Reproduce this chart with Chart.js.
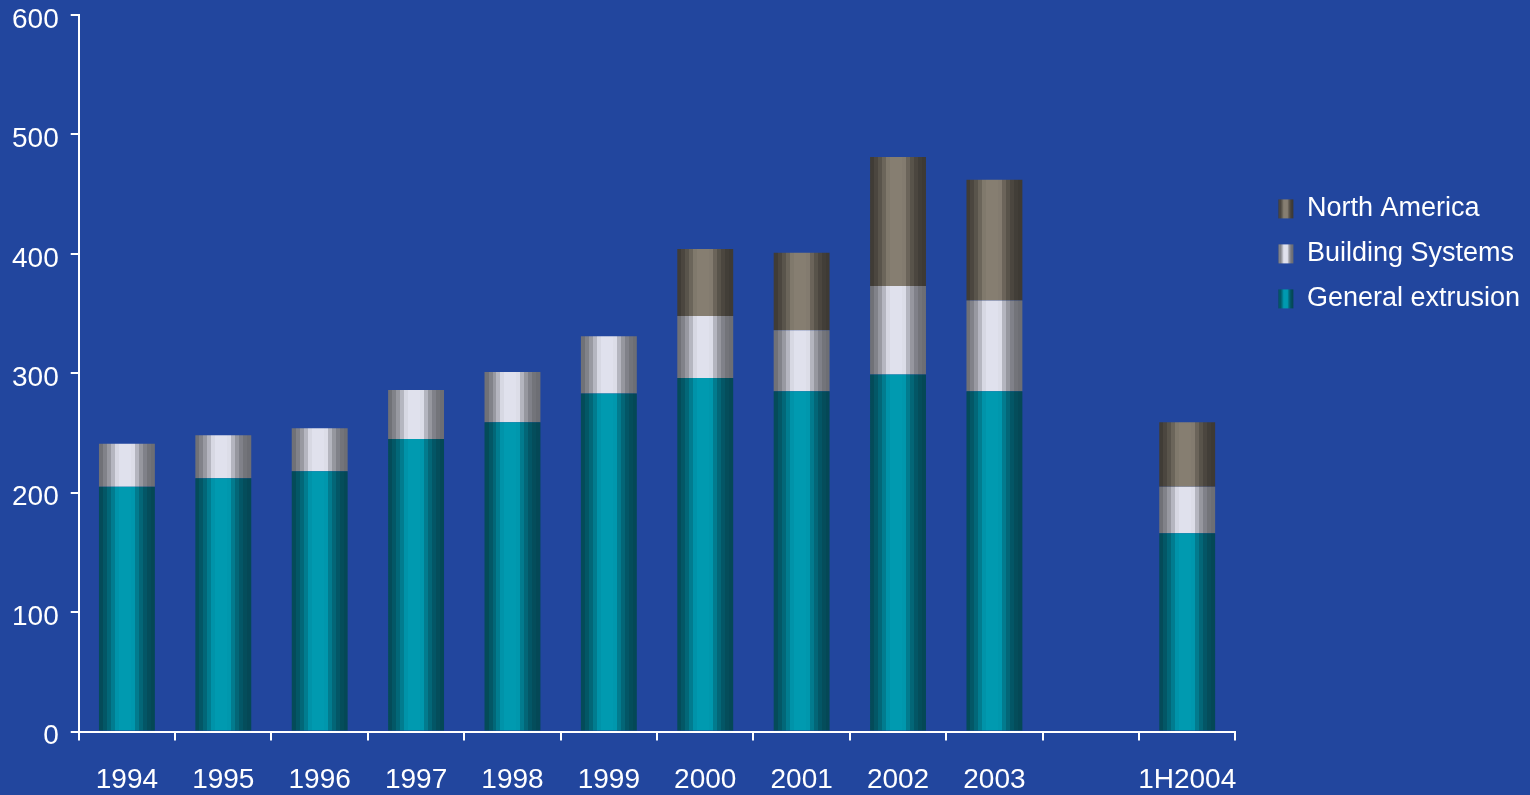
<!DOCTYPE html>
<html>
<head>
<meta charset="utf-8">
<title>Extrusion volumes</title>
<script src="https://cdn.jsdelivr.net/npm/chart.js@4.4.1/dist/chart.umd.min.js"></script>
<style>
  html, body { margin: 0; padding: 0; background: #22469e; }
  canvas { display: block; }
</style>
</head>
<body>
<canvas id="grafico" width="1530" height="795"></canvas>
<script>
// categories, with an empty slot before the half-year bar
const years = ['1994', '1995', '1996', '1997', '1998', '1999', '2000', '2001', '2002', '2003', '', '1H2004'];
const generalExtrusion = [205, 212, 218, 245, 259, 283, 296, 285, 299, 285, null, 166];
const buildingSystems = [36, 36, 36, 41, 42, 48, 52, 51, 74, 76, null, 39];
const northAmerica = [null, null, null, null, null, null, 56, 65, 108, 101, null, 54];
const yTicks = [0, 100, 200, 300, 400, 500, 600];

const FONT = "'Liberation Sans', Arial, sans-serif";
const barShare = 0.58;

// dark edge / bright centre of each "cylinder"
const tones = [
  { dark: [4, 72, 86], light: [0, 154, 176] },       // general extrusion
  { dark: [108, 109, 115], light: [224, 225, 237] }, // building systems
  { dark: [62, 58, 52], light: [134, 126, 113] }     // north america
];

// stepped horizontal shading, like the old office-chart cylinders
function bandStops(g, tone) {
  const n = 14;
  for (let i = 0; i < n; i++) {
    const t = (i + 0.5) / n;
    let f;
    if (t < 0.34) f = Math.pow(t / 0.34, 1.5);
    else if (t < 0.6) f = 1;
    else f = Math.pow((1 - t) / 0.4, 2.15);
    const c = tone.dark.map((d, k) => Math.round(d + (tone.light[k] - d) * f));
    const col = 'rgb(' + c.join(',') + ')';
    g.addColorStop(i / n, col);
    g.addColorStop((i + 1) / n, col);
  }
  return g;
}

function barFill(tone) {
  return function (ctx) {
    const chart = ctx.chart;
    const x = chart.scales.x;
    const flat = 'rgb(' + tone.light.join(',') + ')';
    if (!x || ctx.type !== 'data') return flat;
    const cx = x.getPixelForValue(ctx.dataIndex);
    const w = x.width / years.length * barShare;
    if (!isFinite(cx) || !isFinite(w) || w <= 0) return flat;
    return bandStops(chart.ctx.createLinearGradient(cx - w / 2, 0, cx + w / 2, 0), tone);
  };
}

// paint the legend boxes with the same shading
const legendBoxes = {
  id: 'legendBoxes',
  afterDraw(chart) {
    const lg = chart.legend;
    if (!lg || !lg.legendHitBoxes) return;
    const lo = lg.options.labels;
    const bw = lo.boxWidth, bh = lo.boxHeight, fs = lo.font.size;
    const c = chart.ctx;
    c.save();
    lg.legendItems.forEach((item, i) => {
      const hb = lg.legendHitBoxes[i];
      const top = hb.top + Math.max((fs - bh) / 2, 0);
      c.fillStyle = bandStops(c.createLinearGradient(hb.left, 0, hb.left + bw, 0), tones[item.datasetIndex]);
      c.fillRect(hb.left, top, bw, bh);
    });
    c.restore();
  }
};

const chartData = {
  labels: years,
  datasets: [
    { label: 'General extrusion', data: generalExtrusion, backgroundColor: barFill(tones[0]) },
    { label: 'Building Systems', data: buildingSystems, backgroundColor: barFill(tones[1]) },
    { label: 'North America', data: northAmerica, backgroundColor: barFill(tones[2]) }
  ]
};

const options = {
  responsive: false,
  animation: false,
  devicePixelRatio: 1,
  layout: { padding: { left: 0, right: 0, top: 0, bottom: 0 } },
  datasets: { bar: { borderWidth: 0, barPercentage: barShare, categoryPercentage: 1 } },
  scales: {
    x: {
      stacked: true,
      grid: { offset: true, drawOnChartArea: false, color: '#ffffff', lineWidth: 2, tickLength: 9 },
      border: { color: '#ffffff', width: 2 },
      ticks: { color: '#ffffff', font: { family: FONT, size: 28, lineHeight: 1.1 }, padding: 24, maxRotation: 0, autoSkip: false },
      afterFit: s => { s.height = 63.5; }
    },
    y: {
      stacked: true,
      min: 0,
      max: 600,
      afterBuildTicks: s => { s.ticks = yTicks.map(v => ({ value: v })); },
      grid: { drawOnChartArea: false, color: '#ffffff', lineWidth: 2, tickLength: 8 },
      border: { color: '#ffffff', width: 2 },
      ticks: { color: '#ffffff', font: { family: FONT, size: 28, lineHeight: 1.1 }, padding: 12, labelOffset: 5 },
      afterFit: s => { s.paddingTop = 15; s.paddingBottom = 0; }
    },
    // empty strip between the plot and the legend
    yGap: {
      axis: 'y',
      type: 'linear',
      position: 'right',
      grid: { display: false },
      border: { display: false },
      ticks: { display: false },
      afterFit: s => { s.width = 25; }
    }
  },
  plugins: {
    tooltip: { enabled: false },
    legend: {
      position: 'right',
      align: 'start',
      reverse: true,
      maxWidth: 400,
      title: { display: true, text: '', font: { size: 12 }, padding: { top: 163, bottom: 0 } },
      labels: {
        color: '#ffffff',
        font: { family: FONT, size: 27 },
        boxWidth: 15,
        boxHeight: 19,
        padding: 18,
        generateLabels: chart => chart.data.datasets.map((ds, i) => ({
          text: ds.label,
          fillStyle: 'rgba(0,0,0,0)',
          strokeStyle: 'rgba(0,0,0,0)',
          lineWidth: 0,
          fontColor: '#ffffff',
          hidden: false,
          datasetIndex: i
        }))
      }
    }
  }
};

const Grafico = document.getElementById('grafico');
const myChart = new Chart(Grafico, {
  type: 'bar',
  data: chartData,
  options: options,
  plugins: [legendBoxes]
});
</script>
</body>
</html>
